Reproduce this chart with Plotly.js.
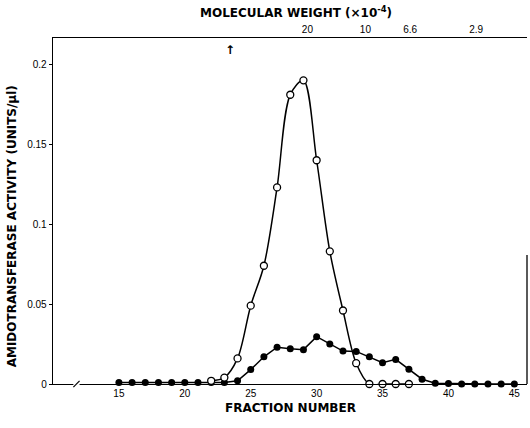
<!DOCTYPE html>
<html>
<head>
<meta charset="utf-8">
<script src="https://cdn.plot.ly/plotly-3.0.1.min.js"></script>
<style>html,body{margin:0;padding:0;background:#fff;}#chart{width:530px;height:428px;}</style>
</head>
<body>
<div id="chart"></div>
<script>
// Filled circles series
const fracFilled = [15,16,17,18,19,20,21,22,23,24,25,26,27,28,29,30,31,32,33,34,35,36,37,38,39,40,41,42,43,44,45];
const actFilled  = [0.001,0.001,0.001,0.001,0.001,0.001,0.001,0.001,0.001,0.002,0.009,0.017,0.023,0.022,0.0215,0.0296,0.025,0.0206,0.0204,0.017,0.0133,0.0154,0.0092,0.003,0.0005,0.0003,0,0,0,0,0];
// Open circles series
const fracOpen = [22,23,24,25,26,27,28,29,30,31,32,33,34,35,36,37];
const actOpen  = [0.002,0.004,0.016,0.049,0.074,0.123,0.181,0.190,0.140,0.083,0.046,0.013,0,0,0,0];
// Bottom axis ticks
const xTicks = [15,20,25,30,35,40,45];
// Left axis ticks
const yTicks = [0,0.05,0.1,0.15,0.2];
const yTickText = ['0','0.05','0.1','0.15','0.2'];
// Top molecular weight markers (fraction position, label)
const mwPos = [29.3,33.7,37.1,42.1];
const mwText = ['20','10','6.6','2.9'];
const voidPos = 23.4;

const font = 'Liberation Sans, Arial, sans-serif';
const titleFont = {family:'DejaVu Sans, sans-serif', size:12, color:'#000', weight:'bold'};

const traces = [
  {x: fracFilled, y: actFilled, type:'scatter', mode:'lines+markers',
   line:{color:'#000', width:1.5, shape:'linear'},
   marker:{symbol:'circle', size:7, color:'#000'}, cliponaxis:false, showlegend:false},
  {x: fracOpen, y: actOpen, type:'scatter', mode:'lines+markers',
   line:{color:'#000', width:1.5, shape:'spline', smoothing:0.9},
   marker:{symbol:'circle', size:7, color:'#fff', line:{color:'#000', width:1.3}}, cliponaxis:false, showlegend:false},
  {x: mwPos, y: mwPos.map(()=>-1), xaxis:'x2', type:'scatter', mode:'markers',
   marker:{opacity:0}, cliponaxis:true, showlegend:false, hoverinfo:'skip'}
];

const layout = {
  width:530, height:428,
  margin:{l:53, r:3, t:38, b:44},
  paper_bgcolor:'#fff', plot_bgcolor:'#fff',
  font:{family:font, size:10, color:'#000'},
  showlegend:false,
  xaxis:{range:[10.0,45.96], tickvals:xTicks, ticktext:xTicks.map(String),
         showline:true, linecolor:'#000', linewidth:1.3, ticks:'', showgrid:false, zeroline:false,
         tickfont:{family:font, size:10, color:'#000'}},
  xaxis2:{range:[10.0,45.96], overlaying:'x', side:'top', anchor:'y',
          tickvals:mwPos, ticktext:mwText, showline:true, linecolor:'#000', linewidth:1.3,
          ticks:'', showgrid:false, zeroline:false, tickfont:{family:font, size:10, color:'#000'}},
  yaxis:{range:[0,0.2165], tickvals:yTicks, ticktext:yTickText,
         showline:true, linecolor:'#000', linewidth:1.3, ticks:'outside', ticklen:3, tickcolor:'#000',
         showgrid:false, zeroline:false, tickfont:{family:font, size:10, color:'#000'}},
  shapes:[
    {type:'line', xref:'paper', yref:'paper', x0:1, x1:1, y0:0, y1:0.373, line:{color:'#000', width:1.3}},
    {type:'rect', xref:'paper', yref:'paper', x0:0.043, x1:0.056, y0:-0.008, y1:0.008, fillcolor:'#fff', line:{width:0}, layer:'above'},
    {type:'line', xref:'paper', yref:'paper', x0:0.043, x1:0.056, y0:-0.009, y1:0.009, line:{color:'#000', width:1.2}, layer:'above'}
  ],
  annotations:[
    {text:'MOLECULAR WEIGHT (×10<sup>-4</sup>)', xref:'paper', yref:'paper', x:0.513, y:1.075,
     xanchor:'center', yanchor:'middle', showarrow:false, font:titleFont},
    {text:'FRACTION NUMBER', xref:'paper', yref:'paper', x:0.5, y:-0.069,
     xanchor:'center', yanchor:'middle', showarrow:false, font:titleFont},
    {text:'AMIDOTRANSFERASE ACTIVITY (UNITS/μl)', xref:'paper', yref:'paper', x:-0.087, y:0.455,
     xanchor:'center', yanchor:'middle', textangle:-90, showarrow:false, font:titleFont},
    {text:'<b>↑</b>', xref:'x', yref:'paper', x:voidPos, y:0.99, xanchor:'center', yanchor:'top',
     showarrow:false, font:{family:'DejaVu Sans, sans-serif', size:12, color:'#000'}}
  ]
};

Plotly.newPlot('chart', traces, layout, {displayModeBar:false, staticPlot:true});
</script>
</body>
</html>
